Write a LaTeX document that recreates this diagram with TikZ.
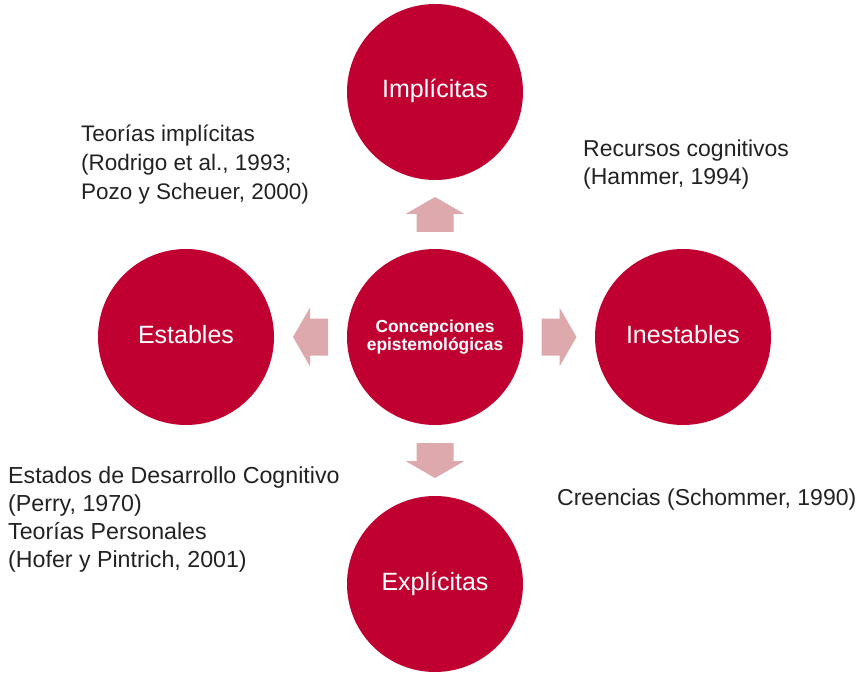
\documentclass[tikz,border=0pt]{standalone}
\usepackage{fontspec}
\setmainfont{Liberation Sans}
\usetikzlibrary{calc}
\definecolor{circred}{HTML}{C00030}
\definecolor{arrowpink}{HTML}{DDA9AD}
\definecolor{txtgray}{HTML}{222222}
\tikzset{
  bigcirc/.style={circle, fill=circred, draw=none, minimum size=176pt, inner sep=0pt,
    text=white, font=\fontsize{25}{28}\selectfont, text height=18pt, text depth=6pt},
  annot/.style={anchor=base west, inner sep=0pt, align=left, text=txtgray,
    font=\fontsize{23}{28}\selectfont},
  barrow/.pic={\fill[arrowpink] (-17.5,-18.5) -- (0.5,-18.5) -- (0.5,-29.5) -- (17.5,0)
     -- (0.5,29.5) -- (0.5,18.5) -- (-17.5,18.5) -- cycle;}
}
\begin{document}
\begin{tikzpicture}[x=1pt,y=-1pt]
\useasboundingbox (0,0) rectangle (863,674);
\node[bigcirc] (t) at (435,92) {Implícitas};
\node[bigcirc] (l) at (186,337) {Estables};
\node[bigcirc] (r) at (683,337) {Inestables};
\node[bigcirc] (b) at (435,584) {Explícitas};
\node[bigcirc, font=\bfseries\fontsize{17.4}{17.5}\selectfont, align=center, text height=, text depth=] (c) at (435,337) {Concepciones\\epistemológicas};

\coordinate (mt) at ($(c.north)!0.5!(t.south)$);
\coordinate (mb) at ($(c.south)!0.5!(b.north)$);
\coordinate (ml) at ($(c.west)!0.5!(l.east)$);
\coordinate (mr) at ($(c.east)!0.5!(r.west)$);
\pic[rotate=90] (au) at (mt) {barrow};
\pic[rotate=-90] (ad) at (mb) {barrow};
\pic[rotate=180] (al) at (ml) {barrow};
\pic (ar) at (mr) {barrow};

% base anchor = baseline of the last line
\node[annot, font=\fontsize{22.5}{29}\selectfont] (n1) at (81,200) {Teorías implícitas\\(Rodrigo et al., 1993;\\Pozo y Scheuer, 2000)};
\node[annot] (n2) at (583,185) {Recursos cognitivos\\(Hammer, 1994)};
\node[annot] (n3) at (557,505) {Creencias (Schommer, 1990)};
\node[annot, font=\fontsize{23.2}{28}\selectfont] (n4) at (8,567) {Estados de Desarrollo Cognitivo\\(Perry, 1970)\\Teorías Personales\\(Hofer y Pintrich, 2001)};
\end{tikzpicture}
\end{document}
